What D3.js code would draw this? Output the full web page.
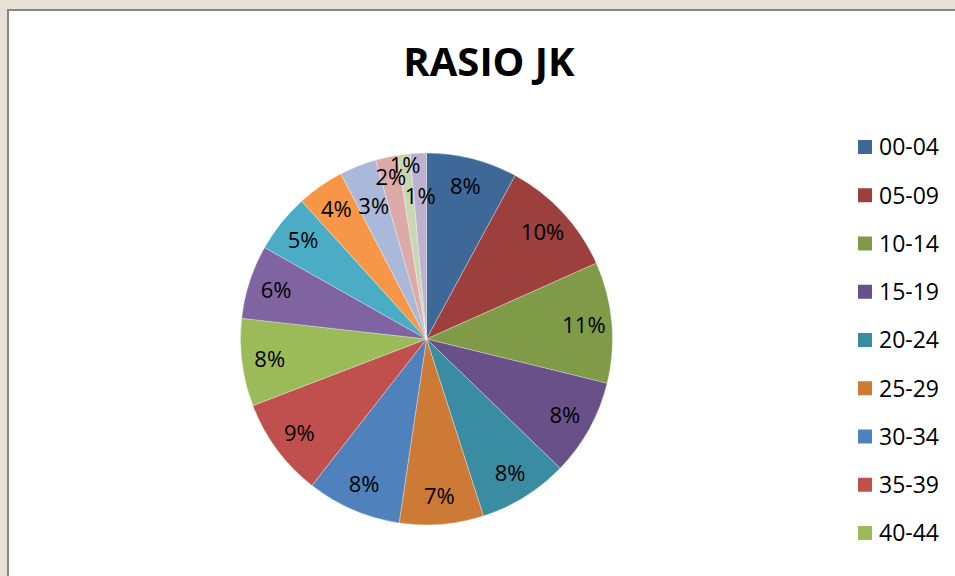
<!DOCTYPE html>
<html>
<head>
<meta charset="utf-8">
<script src="https://cdn.jsdelivr.net/npm/d3@7/dist/d3.min.js"></script>
<style>
  html, body { margin: 0; padding: 0; background: #e8e0d4; }
  svg { display: block; }
</style>
</head>
<body>
<div id="chart"></div>
<script>
// ── Data ──────────────────────────────────────────────────────────────────
const ageGroups = ["00-04", "05-09", "10-14", "15-19", "20-24", "25-29", "30-34", "35-39",
                   "40-44", "45-49", "50-54", "55-59", "60-64", "65-69", "70-74", "75+"];
const shares = [7.9, 10.4, 10.5, 8.4, 7.8, 7.3, 8.2, 8.6, 7.6, 6.4, 5.1, 4.1, 3.2, 1.9, 1.1, 1.4];
const sliceColors = ["#3e6898", "#9d3f3c", "#7f9b47", "#6a5089", "#3a8ca3", "#cd7a36",
                     "#4f81bd", "#c0504d", "#9bbb59", "#8064a2", "#4bacc6", "#f79646",
                     "#aab9d9", "#dbaaa9", "#c9d8b2", "#bdb1d0"];
const chartTitle = "RASIO JK";

// ── Layout ────────────────────────────────────────────────────────────────
const width = 955, height = 576;
const cx = 426.5, cy = 339, radius = 186;
const font = "'Open Sans', 'DejaVu Sans', sans-serif";

// thin slices get pushed in/out so their labels don't pile up
const labelRadiusFactor = { "60-64": 0.77, "65-69": 0.89, "70-74": 0.94, "75+": 0.77 };

const svg = d3.select("#chart").append("svg").attr("width", width).attr("height", height);

// chart frame (runs off the bottom/right of the window)
svg.append("rect")
  .attr("x", 8).attr("y", 10)
  .attr("width", 1000).attr("height", 700)
  .attr("fill", "#ffffff")
  .attr("stroke", "#868686")
  .attr("stroke-width", 2);

svg.append("text")
  .attr("x", 489).attr("y", 76)
  .attr("text-anchor", "middle")
  .attr("font-family", font)
  .attr("font-weight", "bold")
  .attr("font-size", "40px")
  .attr("fill", "#000")
  .text(chartTitle);

// ── Pie ───────────────────────────────────────────────────────────────────
const slices = ageGroups.map((g, i) => ({ group: g, value: shares[i], color: sliceColors[i] }));
const total = d3.sum(shares);

const pie = d3.pie().value(d => d.value).sort(null);
const arc = d3.arc().innerRadius(0).outerRadius(radius);
const arcs = pie(slices);

const pieLayer = svg.append("g").attr("transform", `translate(${cx},${cy})`);

pieLayer.selectAll("path")
  .data(arcs).join("path")
  .attr("d", arc)
  .attr("fill", d => d.data.color)
  .attr("stroke", "#ffffff")
  .attr("stroke-opacity", 0.5)
  .attr("stroke-width", 0.6);

pieLayer.selectAll("text")
  .data(arcs).join("text")
  .attr("transform", d => {
    const r = radius * (labelRadiusFactor[d.data.group] || 0.85);
    const [x, y] = d3.arc().innerRadius(r).outerRadius(r).centroid(d);
    return `translate(${x},${y})`;
  })
  .attr("text-anchor", "middle")
  .attr("dy", "0.36em")
  .attr("font-family", font)
  .attr("font-size", "22px")
  .attr("fill", "#000")
  .text(d => Math.round(d.data.value / total * 100) + "%");

// ── Legend ────────────────────────────────────────────────────────────────
// entries that do not fit inside the visible chart area are dropped
const legendY = d3.scalePoint().domain(ageGroups).range([147, 147 + 48.25 * 15]);
const legendItems = slices.filter(d => legendY(d.group) + 12 < height);

const legend = svg.append("g").selectAll("g")
  .data(legendItems).join("g")
  .attr("transform", d => `translate(858,${legendY(d.group)})`);

legend.append("rect")
  .attr("x", 0).attr("y", -7)
  .attr("width", 14).attr("height", 14)
  .attr("fill", d => d.color);

legend.append("text")
  .attr("x", 21).attr("dy", "0.36em")
  .attr("font-family", font)
  .attr("font-size", "23px")
  .attr("fill", "#000")
  .text(d => d.group);
</script>
</body>
</html>
